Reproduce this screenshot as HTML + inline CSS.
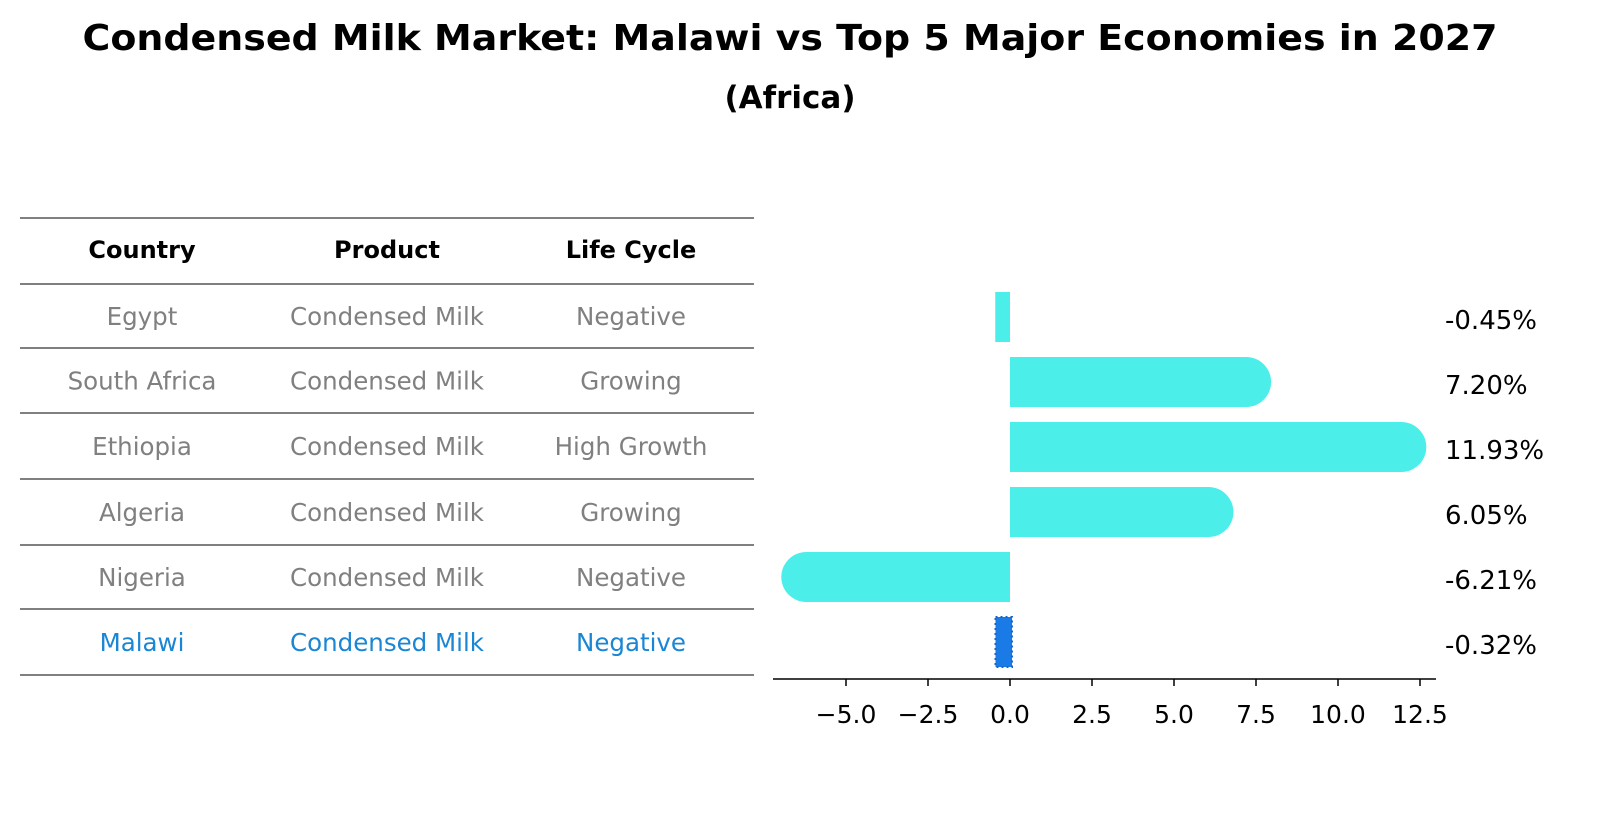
<!DOCTYPE html>
<html><head><meta charset="utf-8"><style>
body{margin:0;background:#fff;font-family:"DejaVu Sans","Liberation Sans",sans-serif;}
#wrap{position:relative;width:1604px;height:823px;overflow:hidden;}
</style></head><body>
<div id="wrap">
<svg id="svg" width="1604" height="823" xmlns="http://www.w3.org/2000/svg">
<text x="790" y="50" text-anchor="middle" font-size="36" font-weight="bold" fill="#000" textLength="1415" lengthAdjust="spacingAndGlyphs">Condensed Milk Market: Malawi vs Top 5 Major Economies in 2027</text>
<text x="790" y="108" text-anchor="middle" font-size="31" font-weight="bold" fill="#000">(Africa)</text>
<g id="table"></g>
<g id="bars"></g>
</svg>
</div>
<script>
const countries=["Egypt","South Africa","Ethiopia","Algeria","Nigeria","Malawi"];
const products=["Condensed Milk","Condensed Milk","Condensed Milk","Condensed Milk","Condensed Milk","Condensed Milk"];
const lifecycles=["Negative","Growing","High Growth","Growing","Negative","Negative"];
const values=[-0.45,7.20,11.93,6.05,-6.21,-0.32];
const ticks=[-5.0,-2.5,0.0,2.5,5.0,7.5,10.0,12.5];
const NS="http://www.w3.org/2000/svg";
function mk(tag,attrs,parent,text){const e=document.createElementNS(NS,tag);for(const k in attrs)e.setAttribute(k,attrs[k]);if(text!==undefined)e.textContent=text;parent.appendChild(e);return e;}
const tbl=document.getElementById('table');
const lineYs=[218,284,348,413,479,545,609,675];
lineYs.forEach(y=>{const l=mk('line',{x1:20,x2:754,y1:y,y2:y,stroke:'#000','stroke-width':1},tbl);

});
const colX=[142,387,631];
["Country","Product","Life Cycle"].forEach((h,i)=>{const t=mk('text',{x:colX[i],y:258,'text-anchor':'middle','font-size':24,'font-weight':'bold',fill:'#000'},tbl,h);

});
countries.forEach((c,r)=>{const y=(lineYs[r+1]+lineYs[r+2])/2+9;const col=c==="Malawi"?"#1a86d4":"#808080";
[c,products[r],lifecycles[r]].forEach((v,i)=>{const t=mk('text',{x:colX[i],y:y,'text-anchor':'middle','font-size':24.5,fill:col},tbl,v);

});});
const g=document.getElementById('bars');
const x0=1010,ppu=32.8;
const xs=v=>x0+v*ppu;
const rowY=r=>317+r*65;
const bh=50;
const ax=mk('line',{x1:773,x2:1436,y1:679,y2:679,stroke:'#000','stroke-width':1.5},g);


ticks.forEach(t=>{const x=xs(t);const tl=mk('line',{x1:x,x2:x,y1:679,y2:686,stroke:'#000','stroke-width':1.5},g);


const lab=mk('text',{x:x,y:723,'text-anchor':'middle','font-size':25,fill:'#000'},g,(t<0?'\u2212':'')+Math.abs(t).toFixed(1));

});
values.forEach((v,r)=>{const yc=rowY(r);const malawi=countries[r]==="Malawi";const xe=xs(v);
const left=Math.min(x0,xe),w=Math.abs(xe-x0);
let el;
if(malawi){el=mk('rect',{x:left-4,y:yc-25,width:w+6,height:bh,fill:'#1a7ae6',stroke:'#1a66c8','stroke-width':2,'stroke-dasharray':'2 3'},g);}
else if(Math.abs(v)>1){const s=v>0?1:-1;const d=`M${x0},${yc-25} L${xe},${yc-25} A25,25 0 0 ${s>0?1:0} ${xe},${yc+25} L${x0},${yc+25} Z`;
el=mk('path',{d:d,fill:'#4ceeea'},g);}
else{el=mk('rect',{x:left,y:yc-25,width:w,height:bh,fill:'#4ceeea'},g);}


const lab=mk('text',{x:1445,y:yc+12,'font-size':26,fill:'#000'},g,v.toFixed(2)+'%');

});
</script>
</body></html>
